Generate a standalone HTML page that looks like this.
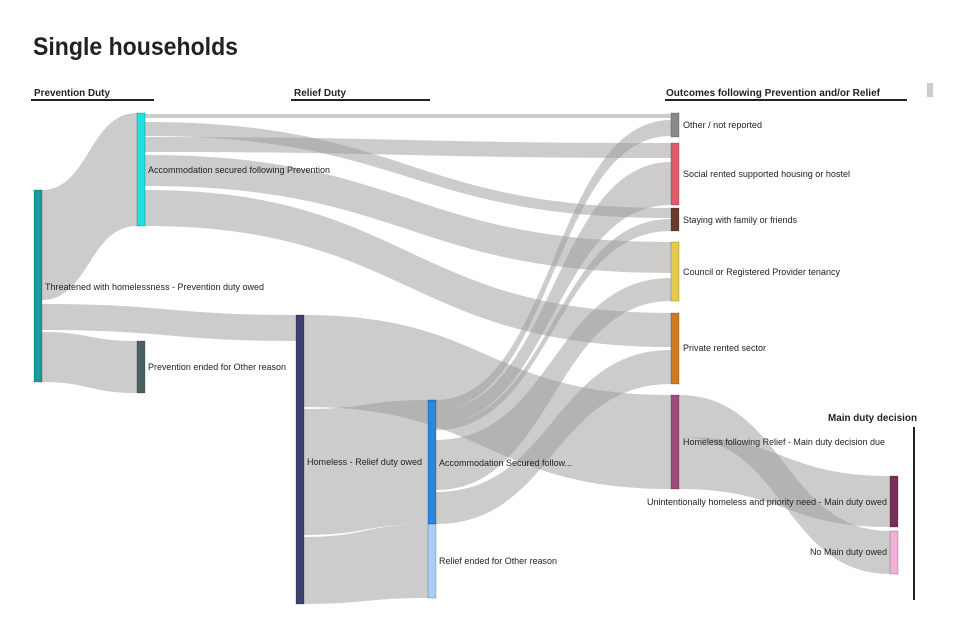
<!DOCTYPE html>
<html><head><meta charset="utf-8"><style>
html,body{margin:0;padding:0;background:#fff;}
svg{display:block;}
text{font-family:"Liberation Sans",sans-serif;}
</style></head><body>
<svg width="960" height="640" viewBox="0 0 960 640" xmlns="http://www.w3.org/2000/svg">
<text x="33" y="55" font-size="25" font-weight="bold" fill="#222" textLength="205" lengthAdjust="spacingAndGlyphs">Single households</text>
<g font-size="10.5" font-weight="bold" fill="#222">
<text x="34" y="96" textLength="76" lengthAdjust="spacingAndGlyphs">Prevention Duty</text>
<text x="294" y="96" textLength="52" lengthAdjust="spacingAndGlyphs">Relief Duty</text>
<text x="666" y="96" textLength="214" lengthAdjust="spacingAndGlyphs">Outcomes following Prevention and/or Relief</text>
<text x="917" y="421" text-anchor="end" textLength="89" lengthAdjust="spacingAndGlyphs">Main duty decision</text>
</g>
<g stroke="#222" stroke-width="2">
<line x1="31" y1="100" x2="154" y2="100"/>
<line x1="291" y1="100" x2="430" y2="100"/>
<line x1="665" y1="100" x2="907" y2="100"/>
<line x1="914" y1="427" x2="914" y2="600"/>
</g>
<rect x="927" y="83" width="6" height="14" fill="#ccc"/>
<g fill="#9a9a9a" fill-opacity="0.5">
<path d="M42 190 C89 190 89 113 137 113 L137 226 C89 226 89 300 42 300 Z"/>
<path d="M42 304 C169 304 169 315 296 315 L296 341 C169 341 169 330 42 330 Z"/>
<path d="M42 332 C89 332 89 341 137 341 L137 393 C89 393 89 382 42 382 Z"/>
<path d="M145 114 C408 114 408 114 671 114 L671 118 C408 118 408 118 145 118 Z"/>
<path d="M145 122 C408 122 408 208 671 208 L671 218 C408 218 408 136 145 136 Z"/>
<path d="M145 137 C408 137 408 143 671 143 L671 158 C408 158 408 152 145 152 Z"/>
<path d="M145 155 C408 155 408 242 671 242 L671 273 C408 273 408 186 145 186 Z"/>
<path d="M145 190 C408 190 408 313 671 313 L671 347 C408 347 408 226 145 226 Z"/>
<path d="M304 315 C487 315 487 395 671 395 L671 489 C487 489 487 407 304 407 Z"/>
<path d="M304 409 C366 409 366 400 428 400 L428 524 C366 524 366 535 304 535 Z"/>
<path d="M304 537 C366 537 366 524 428 524 L428 598 C366 598 366 604 304 604 Z"/>
<path d="M436 400 C553 400 553 120 671 120 L671 136 C553 136 553 410 436 410 Z"/>
<path d="M436 410 C553 410 553 162 671 162 L671 205 C553 205 553 424 436 424 Z"/>
<path d="M436 424 C553 424 553 219 671 219 L671 231 C553 231 553 430 436 430 Z"/>
<path d="M436 440 C553 440 553 278 671 278 L671 301 C553 301 553 490 436 490 Z"/>
<path d="M436 492 C553 492 553 350 671 350 L671 384 C553 384 553 524 436 524 Z"/>
<path d="M679 395 C784 395 784 531 890 531 L890 574 C784 574 784 437 679 437 Z"/>
<path d="M679 437 C784 437 784 476 890 476 L890 527 C784 527 784 489 679 489 Z"/>
</g>
<g stroke-opacity="0.35" stroke="#000" stroke-width="0.6">
<rect x="34" y="190" width="8" height="192" fill="#1a9a9a"/>
<rect x="137" y="113" width="8" height="113" fill="#22e0e0"/>
<rect x="137" y="341" width="8" height="52" fill="#4a6262"/>
<rect x="296" y="315" width="8" height="289" fill="#3f4070"/>
<rect x="428" y="400" width="8" height="124" fill="#2e86de"/>
<rect x="428" y="524" width="8" height="74" fill="#a9cdf5"/>
<rect x="671" y="113" width="8" height="24" fill="#8a8a8a"/>
<rect x="671" y="143" width="8" height="62" fill="#e05a6a"/>
<rect x="671" y="208" width="8" height="23" fill="#6b3a2a"/>
<rect x="671" y="242" width="8" height="59" fill="#e6cc4a"/>
<rect x="671" y="313" width="8" height="71" fill="#d17a20"/>
<rect x="671" y="395" width="8" height="94" fill="#a04a7a"/>
<rect x="890" y="476" width="8" height="51" fill="#7a2e5a"/>
<rect x="890" y="531" width="8" height="43" fill="#f0b0d8"/>
</g>
<g font-size="9.5" fill="#222">
<text x="45" y="290" textLength="219" lengthAdjust="spacingAndGlyphs">Threatened with homelessness - Prevention duty owed</text>
<text x="148" y="173" textLength="182" lengthAdjust="spacingAndGlyphs">Accommodation secured following Prevention</text>
<text x="148" y="370" textLength="138" lengthAdjust="spacingAndGlyphs">Prevention ended for Other reason</text>
<text x="307" y="465" textLength="115" lengthAdjust="spacingAndGlyphs">Homeless - Relief duty owed</text>
<text x="439" y="466" textLength="133" lengthAdjust="spacingAndGlyphs">Accommodation Secured follow...</text>
<text x="439" y="564" textLength="118" lengthAdjust="spacingAndGlyphs">Relief ended for Other reason</text>
<text x="683" y="128" textLength="79" lengthAdjust="spacingAndGlyphs">Other / not reported</text>
<text x="683" y="177" textLength="167" lengthAdjust="spacingAndGlyphs">Social rented supported housing or hostel</text>
<text x="683" y="223" textLength="114" lengthAdjust="spacingAndGlyphs">Staying with family or friends</text>
<text x="683" y="275" textLength="157" lengthAdjust="spacingAndGlyphs">Council or Registered Provider tenancy</text>
<text x="683" y="351" textLength="83" lengthAdjust="spacingAndGlyphs">Private rented sector</text>
<text x="683" y="445" textLength="202" lengthAdjust="spacingAndGlyphs">Homeless following Relief - Main duty decision due</text>
<text x="887" y="505" text-anchor="end" textLength="240" lengthAdjust="spacingAndGlyphs">Unintentionally homeless and priority need - Main duty owed</text>
<text x="887" y="555" text-anchor="end" textLength="77" lengthAdjust="spacingAndGlyphs">No Main duty owed</text>
</g>
</svg>
</body></html>
